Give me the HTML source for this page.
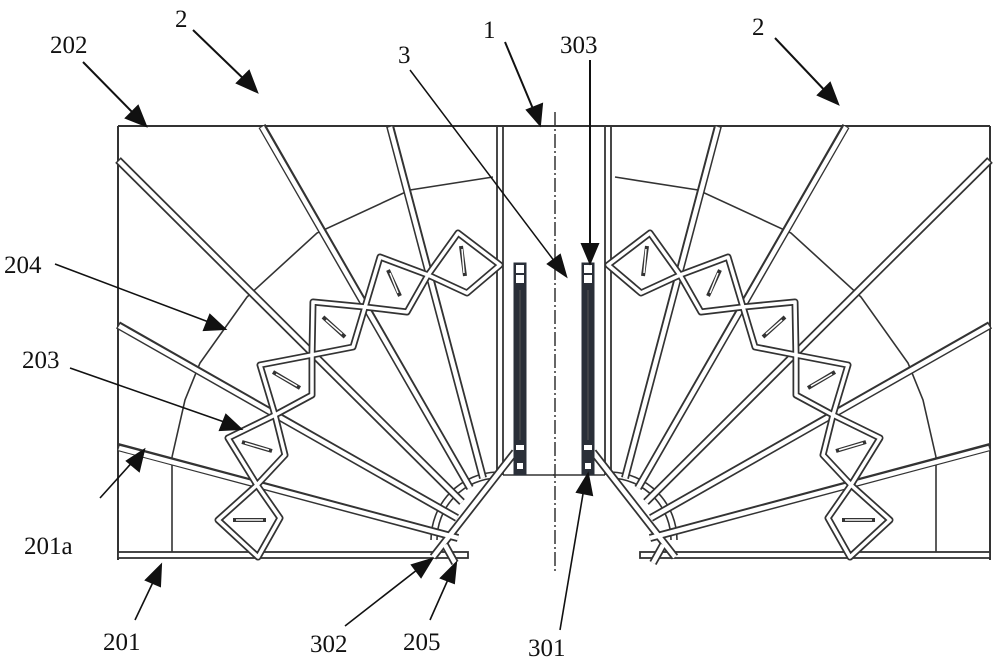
<!DOCTYPE html>
<html><head><meta charset="utf-8"><style>
html,body{margin:0;padding:0;background:#fff;}
svg{display:block;}
text{font-family:"Liberation Serif",serif;font-size:25px;fill:#111;}
</style></head><body>
<svg width="1000" height="665" viewBox="0 0 1000 665" xmlns="http://www.w3.org/2000/svg">
<defs>
<marker id="ah" markerWidth="10" markerHeight="8" refX="9.5" refY="4" orient="auto" markerUnits="userSpaceOnUse" viewBox="0 0 10 8">
</marker>
<g id="half" fill="none" stroke="#333">
  <!-- box -->
  <line x1="118" y1="126" x2="555" y2="126" stroke-width="2"/>
  <line x1="118" y1="126" x2="118" y2="560" stroke-width="2"/>
  <rect x="118" y="552" width="350" height="6" stroke-width="1.8" fill="#fff"/>
  <line x1="172" y1="457" x2="172" y2="552" stroke-width="1.6"/>
  <polyline points="172,457 185,400 200,363 247,297 317,233 410,190 493,177" stroke-width="1.6"/>
  <!-- inner wall -->
  <line x1="497" y1="126" x2="497" y2="475" stroke-width="1.8"/>
  <line x1="503" y1="126" x2="503" y2="475" stroke-width="1.8"/>
  <line x1="503" y1="475" x2="555" y2="475" stroke-width="1.6"/>
  <!-- small arcs -->
  <path d="M437,540 A62,62 0 0 1 497,478" stroke-width="1.6"/>
  <path d="M431,540 A68,68 0 0 1 497,472" stroke-width="1.6"/>
  <!-- radial bars -->
  <g stroke-linecap="butt">
    <g stroke="#333" stroke-width="8">
      <line x1="262" y1="126" x2="470" y2="488"/>
      <line x1="390" y1="126" x2="483" y2="478"/>
      <line x1="118" y1="160" x2="462" y2="502"/>
      <line x1="118" y1="325" x2="457" y2="518"/>
      <line x1="118" y1="447" x2="458" y2="538"/>
      <line x1="433" y1="557" x2="515" y2="452"/>
      <line x1="445" y1="545" x2="455" y2="563"/>
    </g>
    <g stroke="#fff" stroke-width="4.5">
      <line x1="262" y1="127" x2="470" y2="488"/>
      <line x1="390" y1="127" x2="483" y2="478"/>
      <line x1="119" y1="161" x2="462" y2="502"/>
      <line x1="119" y1="326" x2="457" y2="518"/>
      <line x1="119" y1="448" x2="458" y2="538"/>
      <line x1="433" y1="557" x2="515" y2="452"/>
      <line x1="445" y1="545" x2="455" y2="563"/>
    </g>
  </g>
  <!-- truss -->
  <g stroke-linejoin="round">
    <g stroke="#333" stroke-width="7">
      <polygon points="257,485 218,520 258,557 280,518"/>
      <polygon points="228,438 275,415 285,455 257,485"/>
      <polygon points="260,365 312,355 312,395 275,415"/>
      <polygon points="313,302 365,307 353,347 312,355"/>
      <polygon points="380,257 428,275 407,312 365,307"/>
      <polygon points="458,233 500,265 467,293 428,275"/>
    </g>
    <g stroke="#fff" stroke-width="3.5">
      <polygon points="257,485 218,520 258,557 280,518"/>
      <polygon points="228,438 275,415 285,455 257,485"/>
      <polygon points="260,365 312,355 312,395 275,415"/>
      <polygon points="313,302 365,307 353,347 312,355"/>
      <polygon points="380,257 428,275 407,312 365,307"/>
      <polygon points="458,233 500,265 467,293 428,275"/>
    </g>
    <g stroke="#333" stroke-width="4">
      <line x1="233" y1="520" x2="266" y2="520"/>
      <line x1="242" y1="442" x2="272" y2="451"/>
      <line x1="273" y1="372" x2="300" y2="388"/>
      <line x1="323" y1="317" x2="345" y2="337"/>
      <line x1="388" y1="270" x2="400" y2="296"/>
      <line x1="461" y1="246" x2="465" y2="276"/>
    </g>
    <g stroke="#fff" stroke-width="1.5">
      <line x1="236" y1="520" x2="263" y2="520"/>
      <line x1="245" y1="443" x2="269" y2="450"/>
      <line x1="276" y1="374" x2="297" y2="386"/>
      <line x1="326" y1="320" x2="342" y2="334"/>
      <line x1="390" y1="273" x2="398" y2="293"/>
      <line x1="462" y1="249" x2="464" y2="273"/>
    </g>
  </g>
  <!-- gas spring -->
  <rect x="514" y="263" width="12" height="212" fill="#2a2f38" stroke="#2a2f38" stroke-width="1"/>
  <rect x="516" y="265" width="8" height="8" fill="#fff" stroke="none"/>
  <rect x="516" y="275" width="8" height="8" fill="#fff" stroke="none"/>
  <rect x="516" y="445" width="8" height="5" fill="#fff" stroke="none"/>
  <rect x="517" y="463" width="6" height="6" fill="#fff" stroke="none"/>
  <line x1="520" y1="290" x2="520" y2="440" stroke="#555" stroke-width="1"/>
</g>
</defs>

<use href="#half"/>
<use href="#half" transform="translate(1108,0) scale(-1,1)"/>
<line x1="555" y1="112" x2="555" y2="572" stroke="#333" stroke-width="1.5" stroke-dasharray="14,3,2,3"/>

<!-- leaders -->
<g stroke="#111" stroke-width="2" fill="#111">
  <line x1="83" y1="62" x2="140" y2="120"/><polygon points="146,126 126,118 138,106"/>
  <line x1="193" y1="30" x2="250" y2="85"/><polygon points="257,92 237,83 249,71"/>
  <line x1="775" y1="38" x2="830" y2="96"/><polygon points="838,104 818,95 830,83"/>
  <line x1="505" y1="42" x2="536" y2="116"/><polygon points="540,125 527,110 542,104"/>
  <line x1="590" y1="60" x2="590" y2="250"/><polygon points="590,263 582,244 598,244"/>
  <line x1="410" y1="70" x2="558" y2="266" stroke-width="1.5"/><polygon points="566,276 548,264 560,255"/>
  <line x1="55" y1="264" x2="214" y2="324" stroke-width="1.6"/><polygon points="225,329 204,330 210,315"/>
  <line x1="70" y1="368" x2="230" y2="424" stroke-width="1.6"/><polygon points="241,429 220,430 226,415"/>
  <line x1="100" y1="498" x2="136" y2="458" stroke-width="1.6"/><polygon points="144,450 139,471 127,461"/>
  <line x1="135" y1="620" x2="155" y2="578" stroke-width="1.6"/><polygon points="161,565 160,586 146,580"/>
  <line x1="345" y1="626" x2="422" y2="566" stroke-width="1.6"/><polygon points="432,559 421,577 412,565"/>
  <line x1="430" y1="620" x2="450" y2="575" stroke-width="1.6"/><polygon points="456,563 454,583 441,578"/>
  <line x1="560" y1="630" x2="584" y2="488" stroke-width="1.6"/><polygon points="588,474 592,495 577,492"/>
</g>

<text x="50" y="53">202</text>
<text x="175" y="27">2</text>
<text x="752" y="35">2</text>
<text x="398" y="63">3</text>
<text x="483" y="38">1</text>
<text x="560" y="53">303</text>
<text x="4" y="273">204</text>
<text x="22" y="368">203</text>
<text x="24" y="554">201a</text>
<text x="103" y="650">201</text>
<text x="310" y="652">302</text>
<text x="403" y="650">205</text>
<text x="528" y="656">301</text>
</svg>
</body></html>
